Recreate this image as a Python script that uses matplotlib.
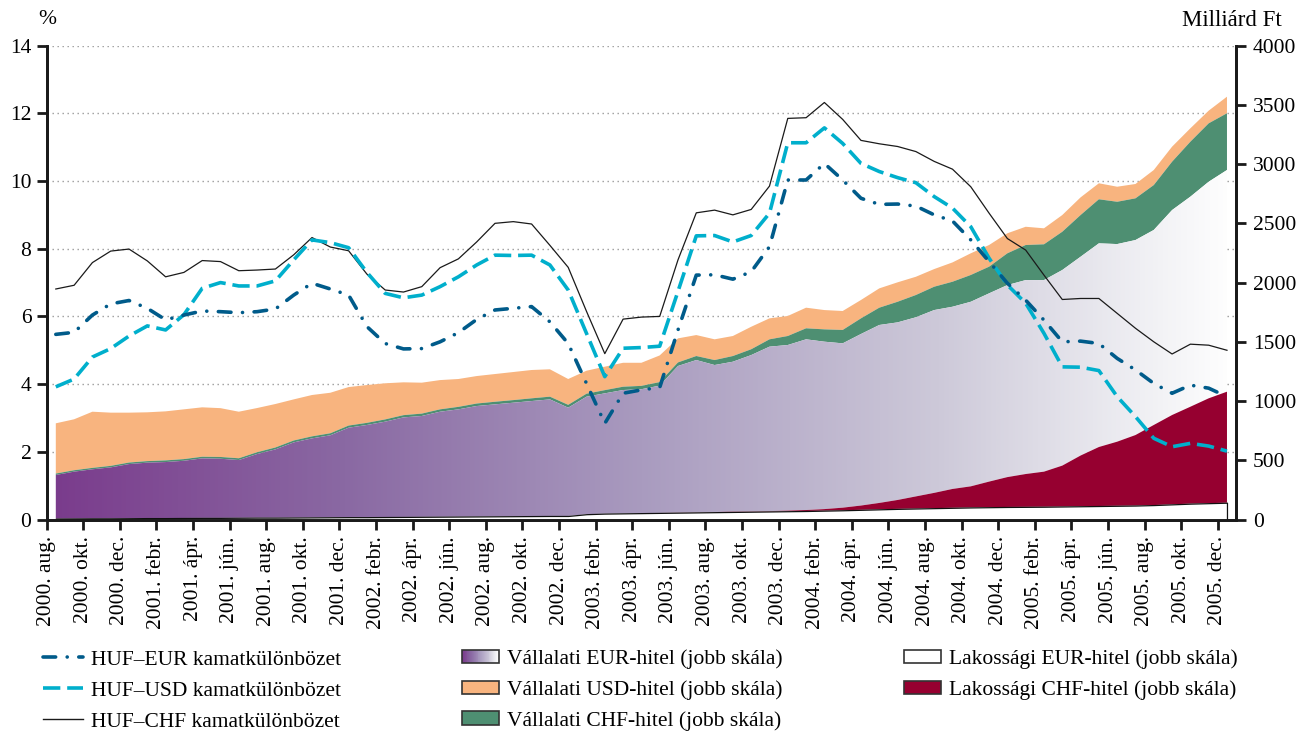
import numpy as np
import matplotlib
matplotlib.use('Agg')
import matplotlib.pyplot as plt
from matplotlib.colors import LinearSegmentedColormap
from matplotlib.lines import Line2D
from matplotlib.patches import Rectangle, Patch
from matplotlib.legend_handler import HandlerBase

plt.rcParams['font.family'] = ['Liberation Serif', 'DejaVu Serif']
plt.rcParams['font.size'] = 15.5

# ---------------- data ----------------
tick_labels = [
    "2000. aug.", "2000. okt.", "2000. dec.",
    "2001. febr.", "2001. ápr.", "2001. jún.", "2001. aug.", "2001. okt.", "2001. dec.",
    "2002. febr.", "2002. ápr.", "2002. jún.", "2002. aug.", "2002. okt.", "2002. dec.",
    "2003. febr.", "2003. ápr.", "2003. jún.", "2003. aug.", "2003. okt.", "2003. dec.",
    "2004. febr.", "2004. ápr.", "2004. jún.", "2004. aug.", "2004. okt.", "2004. dec.",
    "2005. febr.", "2005. ápr.", "2005. jún.", "2005. aug.", "2005. okt.", "2005. dec.",
]

# interest rate differentials (%; left scale), monthly 2000 aug - 2005 dec
huf_eur = [5.47, 5.53, 6.04, 6.37, 6.47, 6.24, 5.90, 6.04, 6.16, 6.14,
           6.11, 6.14, 6.22, 6.63, 6.98, 6.81, 6.63, 5.70, 5.20, 5.04,
           5.05, 5.25, 5.52, 5.91, 6.19, 6.24, 6.29, 5.84, 5.20, 4.02,
           2.84, 3.73, 3.83, 3.90, 5.60, 7.22, 7.23, 7.10, 7.32, 8.06,
           10.03, 10.03, 10.52, 10.03, 9.49, 9.31, 9.32, 9.26, 9.00, 8.82,
           8.26, 7.62, 6.98, 6.48, 5.89, 5.25, 5.27, 5.20, 4.76, 4.42,
           4.02, 3.73, 3.97, 3.88, 3.63]
huf_usd = [3.92, 4.15, 4.80, 5.05, 5.42, 5.72, 5.60, 6.05, 6.83, 7.00,
           6.90, 6.90, 7.05, 7.67, 8.26, 8.18, 8.03, 7.30, 6.68, 6.55,
           6.63, 6.88, 7.17, 7.52, 7.81, 7.80, 7.81, 7.52, 6.78, 5.50,
           4.22, 5.06, 5.08, 5.12, 6.74, 8.38, 8.39, 8.20, 8.39, 9.05,
           11.13, 11.13, 11.57, 11.11, 10.52, 10.28, 10.10, 9.95, 9.54, 9.20,
           8.65, 7.72, 6.93, 6.39, 5.50, 4.51, 4.50, 4.40, 3.63, 3.04,
           2.40, 2.15, 2.25, 2.17, 2.02]
huf_chf = [6.81, 6.92, 7.59, 7.93, 7.99, 7.64, 7.17, 7.30, 7.65, 7.62,
           7.35, 7.37, 7.40, 7.82, 8.33, 8.05, 7.94, 7.25, 6.78, 6.72,
           6.88, 7.44, 7.70, 8.20, 8.75, 8.80, 8.73, 8.10, 7.45, 6.15,
           4.90, 5.92, 5.98, 6.00, 7.67, 9.06, 9.14, 9.00, 9.16, 9.85,
           11.85, 11.87, 12.32, 11.82, 11.20, 11.10, 11.02, 10.87, 10.58, 10.35,
           9.83, 9.05, 8.30, 7.96, 7.22, 6.50, 6.53, 6.53, 6.09, 5.65,
           5.25, 4.89, 5.18, 5.15, 5.00]

# loan stocks (billion HUF; right scale), stacked bottom -> top
lak_eur = [8, 9, 10, 10, 11, 12, 12, 13, 14, 14,
           15, 16, 16, 17, 18, 19, 20, 20, 21, 22,
           23, 24, 25, 26, 27, 28, 29, 30, 30, 45,
           50, 52, 54, 56, 58, 60, 62, 64, 66, 68,
           70, 72, 75, 78, 82, 86, 90, 93, 96, 99,
           102, 104, 106, 107, 108, 110, 112, 114, 116, 118,
           122, 128, 134, 138, 142]
lak_chf = [0, 0, 0, 0, 0, 0, 0, 0, 0, 0,
           0, 0, 0, 0, 0, 0, 0, 0, 0, 0,
           0, 0, 0, 0, 0, 0, 0, 0, 0, 0,
           0, 0, 0, 0, 1, 1, 1, 2, 2, 3,
           5, 8, 13, 22, 36, 54, 75, 102, 129, 159,
           178, 216, 252, 277, 296, 345, 428, 498, 541, 595,
           676, 754, 818, 885, 937]
vall_eur = [368, 395, 414, 430, 457, 468, 473, 483, 502, 499,
            487, 537, 576, 634, 667, 692, 755, 778, 805, 840,
            851, 886, 905, 932, 945, 958, 971, 984, 914, 992,
            1015, 1041, 1046, 1074, 1237, 1285, 1241, 1266, 1320, 1388,
            1398, 1441, 1413, 1387, 1448, 1502, 1499, 1512, 1543, 1538,
            1558, 1589, 1621, 1637, 1617, 1651, 1678, 1719, 1668, 1646,
            1646, 1730, 1773, 1828, 1871]
vall_chf = [12, 12, 12, 13, 13, 13, 14, 14, 14, 15,
            15, 15, 16, 16, 17, 17, 18, 18, 19, 19,
            20, 20, 21, 21, 22, 22, 23, 23, 24, 25,
            27, 28, 28, 30, 30, 34, 42, 48, 49, 62,
            76, 93, 104, 113, 132, 146, 174, 188, 197, 211,
            226, 225, 268, 296, 302, 323, 352, 372, 357, 352,
            379, 408, 464, 493, 479]
vall_usd = [424, 430, 474, 449, 421, 412, 414, 420, 417, 412,
            393, 373, 367, 347, 349, 342, 325, 319, 305, 277,
            261, 247, 235, 232, 234, 237, 239, 231, 218, 194,
            198, 202, 195, 225, 203, 177, 175, 169, 190, 177,
            169, 174, 163, 160, 155, 163, 164, 154, 149, 163,
            183, 183, 169, 154, 135, 141, 149, 135, 127, 121,
            127, 127, 113, 107, 140]

left_ticks = [0, 2, 4, 6, 8, 10, 12, 14]
right_ticks = [0, 500, 1000, 1500, 2000, 2500, 3000, 3500, 4000]

# ---------------- styles ----------------
c_eur_line = '#005b8a'
c_usd_line = '#00afcc'
c_chf_line = '#1a1a1a'
c_orange = '#f8b47f'
c_green = '#4e8f72'
c_crimson = '#960030'
grad_cmap = LinearSegmentedColormap.from_list(
    'vallEUR', [(0.0, '#7a3b8c'), (0.25, '#8a69a3'), (0.5, '#a99bbf'),
                (0.75, '#cdc9d9'), (0.92, '#efeff3'), (1.0, '#ffffff')])

months = np.arange(len(huf_eur))
n = len(months)

fig = plt.figure(figsize=(12.96, 7.31), dpi=100)
ax_l = fig.add_axes([0.036, 0.2893, 0.9178, 0.6483])
ax_r = ax_l.twinx()
ax_l.set_zorder(ax_r.get_zorder() + 1)
ax_l.patch.set_visible(False)

xmin, xmax = -0.5, n - 0.5

# grid (behind areas), at left-scale ticks
ax_r.hlines([v * 4000 / 14 for v in left_ticks[1:]], xmin, xmax, colors='#9a9a9a',
            linestyles=(0, (1, 2.6)), lw=1.0, zorder=1)

# stacked areas
b0 = np.zeros(n)
b1 = b0 + np.array(lak_eur)
b2 = b1 + np.array(lak_chf)
b3 = b2 + np.array(vall_eur)
b4 = b3 + np.array(vall_chf)
b5 = b4 + np.array(vall_usd)

ax_r.fill_between(months, b4, b5, facecolor=c_orange, lw=0, zorder=3)
ax_r.fill_between(months, b3, b4, facecolor=c_green, lw=0, zorder=3)
poly = ax_r.fill_between(months, b2, b3, facecolor='none', lw=0, zorder=3)
grad = np.linspace(0, 1, 512).reshape(1, -1)
im = ax_r.imshow(grad, cmap=grad_cmap, aspect='auto', extent=[xmin, xmax, 0, 4000],
                 origin='lower', zorder=3, interpolation='bilinear')
im.set_clip_path(poly.get_paths()[0], transform=ax_r.transData)
ax_r.fill_between(months, b1, b2, facecolor=c_crimson, lw=0, zorder=3.5)
ax_r.fill_between(months, b0, b1, facecolor='white', edgecolor='#111111', lw=0.9, zorder=3.6)

# lines
ax_l.plot(months, huf_chf, color=c_chf_line, lw=0.9, zorder=3)
ax_l.plot(months, huf_usd, color=c_usd_line, lw=2.6, linestyle=(0, (4.8, 1.9)), zorder=4)
ax_l.plot(months, huf_eur, color=c_eur_line, lw=2.6, linestyle=(0, (3.5, 3.2, 0.01, 3.2)),
          dash_capstyle='round', zorder=5)

# axes
ax_l.set_xlim(xmin, xmax)
ax_r.set_xlim(xmin, xmax)
ax_l.set_ylim(0, 14)
ax_r.set_ylim(0, 4000)
ax_l.set_yticks(left_ticks)
ax_r.set_yticks(right_ticks)
ax_l.set_xticks(np.arange(0, n, 2) - 0.5)
ax_l.set_xticklabels(tick_labels, rotation=90, va='top', ha='center')

for ax in (ax_l, ax_r):
    ax.spines['top'].set_visible(False)
    for s in ('left', 'right', 'bottom'):
        ax.spines[s].set_linewidth(2)
        ax.spines[s].set_color('#1a1a1a')
ax_l.tick_params(axis='both', direction='out', length=7, width=2, color='#1a1a1a',
                 labelsize=15.5, pad=4)
ax_r.tick_params(axis='y', direction='out', length=7, width=2, color='#1a1a1a',
                 labelsize=15.5, pad=5)
ax_l.tick_params(axis='x', pad=5)

fig.text(47 / 1296, 1 - 20 / 731, '%', ha='center', va='center', fontsize=15.5)
fig.text(1282 / 1296, 1 - 20 / 731, 'Milliárd Ft', ha='right', va='center', fontsize=16.5)


# legend
class GradientHandler(HandlerBase):
    def __init__(self, cmap, **kw):
        super().__init__(**kw)
        self.cmap = cmap

    def create_artists(self, legend, orig_handle, xdescent, ydescent, width, height,
                       fontsize, trans):
        k = 40
        arts = []
        for i in range(k):
            arts.append(Rectangle((-xdescent + width * i / k, -ydescent), width / k * 1.05,
                                  height, facecolor=self.cmap(i / (k - 1)),
                                  edgecolor='none', transform=trans))
        arts.append(Rectangle((-xdescent, -ydescent), width, height, facecolor='none',
                              edgecolor='#333333', lw=1.2, transform=trans))
        return arts


h_eur = Line2D([], [], color=c_eur_line, lw=2.6, linestyle=(0, (3.5, 3.2, 0.01, 3.2)),
               dash_capstyle='round')
h_usd = Line2D([], [], color=c_usd_line, lw=2.6, linestyle=(0, (4.8, 1.9)))
h_chf = Line2D([], [], color=c_chf_line, lw=1.0)
h_veur = Patch(facecolor='white', edgecolor='#333333')
h_vusd = Patch(facecolor=c_orange, edgecolor='#333333', lw=1.2)
h_vchf = Patch(facecolor=c_green, edgecolor='#333333', lw=1.2)
h_leur = Patch(facecolor='white', edgecolor='#333333', lw=1.2)
h_lchf = Patch(facecolor=c_crimson, edgecolor='#333333', lw=1.2)

common = dict(frameon=False, borderpad=0, borderaxespad=0, loc='upper left',
              fontsize=15.5, labelspacing=0.51)
top_y = 1 - 649.5 / 731
fig.legend([h_eur, h_usd, h_chf],
           ['HUF–EUR kamatkülönbözet', 'HUF–USD kamatkülönbözet', 'HUF–CHF kamatkülönbözet'],
           bbox_to_anchor=(43 / 1296, top_y), handlelength=1.85, handletextpad=0.37, **common)
fig.legend([h_veur, h_vusd, h_vchf],
           ['Vállalati EUR-hitel (jobb skála)', 'Vállalati USD-hitel (jobb skála)',
            'Vállalati CHF-hitel (jobb skála)'],
           bbox_to_anchor=(462 / 1296, top_y), handlelength=1.7, handleheight=0.6,
           handletextpad=0.37, handler_map={h_veur: GradientHandler(grad_cmap)}, **common)
fig.legend([h_leur, h_lchf],
           ['Lakossági EUR-hitel (jobb skála)', 'Lakossági CHF-hitel (jobb skála)'],
           bbox_to_anchor=(904 / 1296, top_y), handlelength=1.7, handleheight=0.6,
           handletextpad=0.37, **common)

fig.savefig('out.png', dpi=100, facecolor='white')
